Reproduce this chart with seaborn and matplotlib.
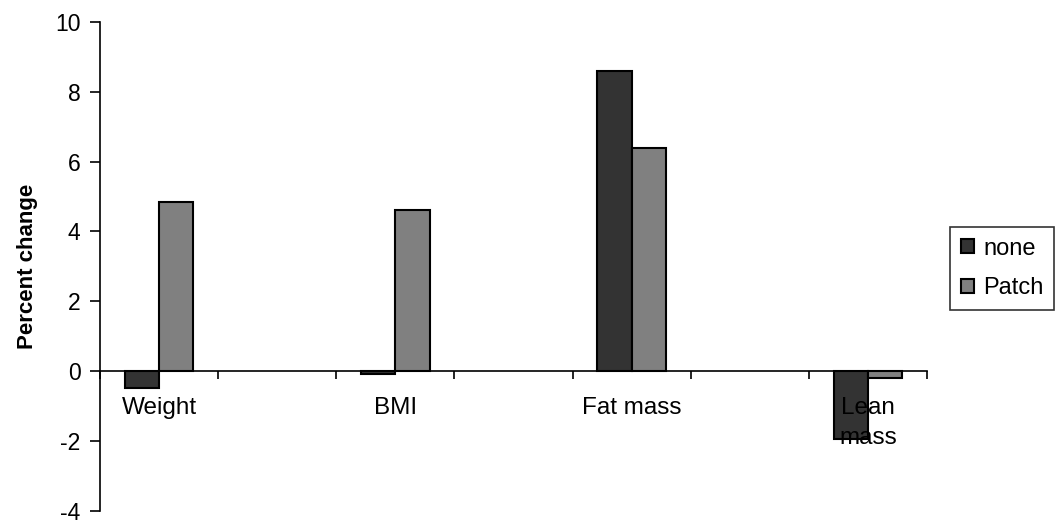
import matplotlib
matplotlib.use("Agg")
import matplotlib.pyplot as plt
import seaborn as sns
import pandas as pd
from matplotlib.ticker import FixedLocator, NullFormatter

categories = ["Weight", "BMI", "Fat mass", "Lean mass"]
tick_labels = ["Weight", "BMI", "Fat mass", "Lean\nmass"]
none_vals = [-0.5, -0.1, 8.6, -1.95]
patch_vals = [4.85, 4.6, 6.4, -0.2]
series = ["none", "Patch"]
colors = ["#333333", "#808080"]

df = pd.DataFrame({
    "cat": categories * 2,
    "val": none_vals + patch_vals,
    "grp": ["none"] * 4 + ["Patch"] * 4,
})

sns.set_style("white")
plt.rcParams['font.family'] = ['Liberation Sans', 'DejaVu Sans']
plt.rcParams['axes.unicode_minus'] = False
plt.rcParams['text.color'] = 'black'
plt.rcParams['axes.labelcolor'] = 'black'
plt.rcParams['xtick.color'] = 'black'
plt.rcParams['ytick.color'] = 'black'

fig = plt.figure(figsize=(10.58, 5.23), dpi=100)
ax = fig.add_axes([100/1058, 12.5/523, 827/1058, 488.5/523])

order = ["Weight", "_s1", "BMI", "_s2", "Fat mass", "_s3", "Lean mass"]
sns.barplot(data=df, x="cat", y="val", hue="grp", order=order, hue_order=series,
            palette=colors, width=0.58, edgecolor="black", linewidth=1.5,
            ax=ax, errorbar=None, saturation=1)
ax.set_axisbelow(False)

ax.set_ylim(-4, 10)
ax.set_xlim(-0.5, 6.5)
ax.set_yticks(range(-4, 11, 2))
ax.tick_params(axis='y', direction='out', length=7, width=1.2, labelsize=16.5, pad=7, left=True)
ax.spines['bottom'].set_position(('data', 0))
ax.spines['top'].set_visible(False)
ax.spines['right'].set_visible(False)
for s in ['left', 'bottom']:
    ax.spines[s].set_color('black')
    ax.spines[s].set_linewidth(1.2)

ax.set_xticks([0, 2, 4, 6])
ax.set_xticklabels(tick_labels, fontsize=17.5, linespacing=1.45, va='top')
ax.tick_params(axis='x', which='major', length=0, pad=19)
ax.xaxis.set_minor_locator(FixedLocator([i - 0.5 for i in range(8)]))
ax.xaxis.set_minor_formatter(NullFormatter())
ax.tick_params(axis='x', which='minor', direction='out', length=6, width=1.2, bottom=True, color='black')
ax.set_xlabel("")
ax.set_ylabel("Percent change", fontsize=16, fontweight='bold', labelpad=12)

ax.get_legend().remove()
handles, labels = ax.get_legend_handles_labels()
leg = fig.legend(handles, labels, loc='upper left', bbox_to_anchor=(950/1058, 1 - 227/523),
                 frameon=True, fancybox=False, fontsize=17, handlelength=0.55, handleheight=0.55,
                 handletextpad=0.4, borderpad=0.45, labelspacing=0.75, borderaxespad=0)
leg.get_frame().set_edgecolor('black')
leg.get_frame().set_linewidth(1.2)

fig.savefig("out.png", dpi=100)
